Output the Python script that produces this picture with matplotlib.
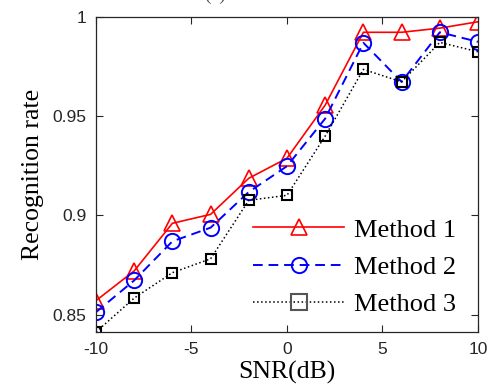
import numpy as np
import matplotlib
matplotlib.use("Agg")
import matplotlib.pyplot as plt

# datos
snr = [-10, -8, -6, -4, -2, 0, 2, 4, 6, 8, 10]
metodo1 = [0.857, 0.872, 0.896, 0.9005, 0.9187, 0.9288, 0.9556, 0.9923, 0.9923, 0.9944, 0.9976]
metodo2 = [0.8512, 0.8672, 0.8869, 0.8938, 0.9118, 0.9248, 0.9488, 0.987, 0.9673, 0.9923, 0.9875]
metodo3 = [0.8412, 0.8583, 0.8711, 0.8781, 0.9076, 0.9101, 0.940, 0.9736, 0.9673, 0.9872, 0.9825]
etiquetas = ["Method 1", "Method 2", "Method 3"]
xticks = [-10, -5, 0, 5, 10]
yticks = [0.85, 0.9, 0.95, 1.0]
yticklabels = ["0.85", "0.9", "0.95", "1"]

fig = plt.figure(figsize=(4.89, 3.85), dpi=100)
ax = fig.add_axes([0.1963, 0.1377, 0.7812, 0.8181])

ax.plot(snr, metodo1, "-", color="red", lw=1.2, marker="^", ms=11,
        mfc="none", mew=1.2, label=etiquetas[0])
ax.plot(snr, metodo2, "--", color="blue", lw=1.4, marker="o", ms=11,
        mfc="none", mew=1.4, dashes=(5, 3), label=etiquetas[1])
ax.plot(snr, metodo3, ":", color="black", lw=1.1, marker="s", ms=7,
        mfc="none", mew=1.5, label=etiquetas[2])

ax.set_xlim(-10, 10)
ax.set_ylim(0.8412, 1.0)
ax.set_xticks(xticks)
ax.set_xticklabels([str(t) for t in xticks])
ax.set_yticks(yticks)
ax.set_yticklabels(yticklabels)
ax.tick_params(direction="in", top=True, right=True, length=5, width=0.8,
               labelsize=12.5, colors="#262626", pad=7)
for lab in ax.get_xticklabels() + ax.get_yticklabels():
    lab.set_fontfamily("Liberation Sans")
for s in ax.spines.values():
    s.set_linewidth(0.9)
    s.set_color("#262626")

ax.set_xlabel("SNR(dB)", fontfamily="Liberation Serif", fontsize=18.5, labelpad=3)
ax.set_ylabel("Recognition rate", fontfamily="Liberation Serif", fontsize=18.5, labelpad=6)

leg = ax.legend(loc="lower right", bbox_to_anchor=(0.99, -0.008), frameon=False,
                prop={"family": "Liberation Serif", "size": 19},
                handlelength=3.45, handletextpad=0.35, labelspacing=0.52,
                borderaxespad=0.3)
# en la leyenda los cuadrados se ven mas grandes y grises
leg.legend_handles[2].set_markersize(11)
leg.legend_handles[2].set_markeredgecolor("#555555")
leg.legend_handles[0].set_markersize(12)

fig.text(0.44, 0.99, "(a)", fontfamily="Liberation Serif", fontsize=14,
         ha="center", va="bottom", color="#555555")

fig.savefig("out.png", dpi=100)
